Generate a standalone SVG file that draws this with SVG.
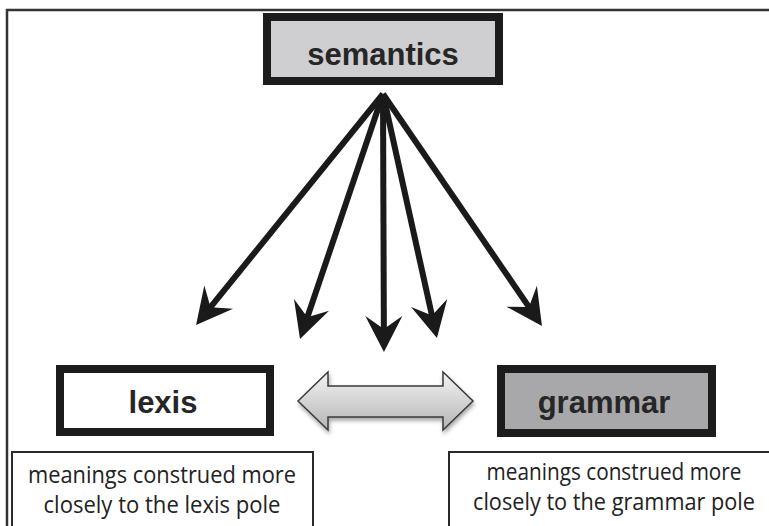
<svg xmlns="http://www.w3.org/2000/svg" width="769" height="526" viewBox="0 0 769 526">
<style>
.box{stroke:#1c1c1c;stroke-width:8}
.big{font-family:"Liberation Sans",Arial,sans-serif;font-weight:bold;font-size:31px;fill:#262626;text-anchor:middle}
.cap{fill:#fff;stroke:#2a2a2a;stroke-width:2}
.capt{font-family:"Open Sans","Noto Sans",sans-serif;font-size:23px;fill:#222;text-anchor:middle}
.conn line{stroke:#1a1a1a;stroke-width:6;fill:none}
</style>
<defs>
<marker id="ah" markerUnits="userSpaceOnUse" viewBox="-25 -21 45 42" markerWidth="45" markerHeight="42" refX="0" refY="0" orient="auto">
<path d="M15,0 L-21,-18.5 L-8,0 L-21,18.5 Z" fill="#1a1a1a"/>
</marker>
<linearGradient id="dg" x1="0" y1="0" x2="0" y2="1">
<stop offset="0" stop-color="#f4f4f4"/>
<stop offset="1" stop-color="#b4b4b6"/>
</linearGradient>
<filter id="sh" x="-10%" y="-20%" width="120%" height="150%">
<feGaussianBlur in="SourceAlpha" stdDeviation="2"/>
<feOffset dx="1" dy="3" result="b"/>
<feComponentTransfer><feFuncA type="linear" slope="0.35"/></feComponentTransfer>
<feMerge><feMergeNode/><feMergeNode in="SourceGraphic"/></feMerge>
</filter>
</defs>
<rect width="769" height="526" fill="#fff"/>
<path d="M7,526 L7,10 L769,10" fill="none" stroke="#333" stroke-width="2.5"/>
<g id="semantics">
<rect class="box" x="267" y="17" width="232" height="64" fill="#cfcfd1"/>
<text class="big" x="383" y="65">semantics</text>
</g>
<g id="lexis">
<rect class="box" x="60" y="369" width="210" height="63" fill="#fff"/>
<text class="big" x="163" y="413">lexis</text>
</g>
<g id="grammar">
<rect class="box" x="501" y="369" width="211" height="64" fill="#a8a8aa"/>
<text class="big" x="604" y="413">grammar</text>
</g>
<g id="lexis-caption">
<rect class="cap" x="12" y="452" width="301" height="90"/>
<text class="capt" x="162" y="483" textLength="268" lengthAdjust="spacingAndGlyphs">meanings construed more</text>
<text class="capt" x="162" y="513" textLength="237" lengthAdjust="spacingAndGlyphs">closely to the lexis pole</text>
</g>
<g id="grammar-caption">
<rect class="cap" x="449" y="452" width="330" height="90"/>
<text class="capt" x="614" y="480" textLength="255" lengthAdjust="spacingAndGlyphs">meanings construed more</text>
<text class="capt" x="614" y="510" textLength="282" lengthAdjust="spacingAndGlyphs">closely to the grammar pole</text>
</g>
<g id="connectors" class="conn">
<line x1="383" y1="94" x2="205.5" y2="313.4" marker-end="url(#ah)"/>
<line x1="383" y1="94" x2="304.8" y2="324.8" marker-end="url(#ah)"/>
<line x1="383" y1="94" x2="383.9" y2="337" marker-end="url(#ah)"/>
<line x1="383" y1="94" x2="433.7" y2="323.4" marker-end="url(#ah)"/>
<line x1="383" y1="94" x2="533.5" y2="313.6" marker-end="url(#ah)"/>
<path id="double-arrow" d="M298,401 L328,372 L328,386 L443,386 L443,372 L473,401 L443,430 L443,417 L328,417 L328,430 Z" fill="url(#dg)" stroke="#3a3a3a" stroke-width="1.5" stroke-linejoin="miter" filter="url(#sh)"/>
</g>
</svg>
